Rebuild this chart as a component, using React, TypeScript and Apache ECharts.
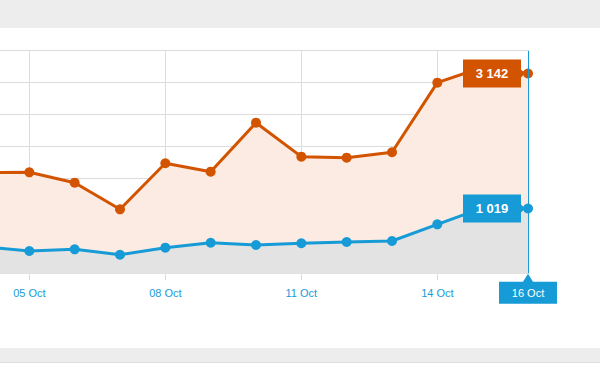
import React, { useEffect, useRef } from "react";
import * as echarts from "echarts";

const categories = ["04 Oct", "05 Oct", "06 Oct", "07 Oct", "08 Oct", "09 Oct", "10 Oct", "11 Oct", "12 Oct", "13 Oct", "14 Oct", "15 Oct", "16 Oct"];
const orangeValues = [1585, 1588, 1425, 1006, 1730, 1598, 2368, 1834, 1818, 1903, 2997, 3240, 3142];
const blueValues = [415, 351, 377, 292, 403, 481, 445, 472, 492, 508, 770, 1030, 1019];
const highlightCategory = "16 Oct";

const ORANGE = "#d35400";
const BLUE = "#169bd7";
const GRID = "#dcdcdc";
const SHIFT = 15.75;

const fmt = (v: number) => String(v).replace(/\B(?=(\d{3})+(?!\d))/g, " ");

const showEveryThird = (i: number) => (i - 1) % 3 === 0;

export default function App() {
  const ref = useRef<HTMLDivElement>(null);
  useEffect(() => {
    if (!ref.current) return;
    const chart = echarts.init(ref.current, undefined, { renderer: "svg" });
    const lastIdx = categories.indexOf(highlightCategory);
    const valueBox = "path://M0,0 L58,0 L58,10 L62,14 L58,18 L58,28 L0,28 Z";
    const dateBox = "path://M0,8 L24,8 L29,0 L34,8 L58,8 L58,30 L0,30 Z";
    chart.setOption({
      animation: false,
      backgroundColor: "#ffffff",
      graphic: [
        { type: "rect", left: 0, top: 0, shape: { width: 620, height: 28 }, style: { fill: "#ededed" }, z: -10 },
        { type: "rect", left: 0, top: 348, shape: { width: 620, height: 14 }, style: { fill: "#ededed" }, z: -10 },
        { type: "rect", left: 0, top: 362, shape: { width: 620, height: 1 }, style: { fill: "#dedede" }, z: -10 },
      ],
      grid: { left: 0, right: 72, top: 50.7, bottom: 98.7, containLabel: false },
      xAxis: {
        type: "category",
        data: categories,
        boundaryGap: false,
        axisLine: { show: true, lineStyle: { color: GRID, width: 1 } },
        axisTick: { show: true, length: 7, interval: showEveryThird, lineStyle: { color: GRID } },
        axisLabel: {
          interval: showEveryThird,
          color: BLUE,
          fontSize: 11,
          fontFamily: "Liberation Sans, Arial, sans-serif",
          margin: 14,
        },
        splitLine: { show: true, interval: showEveryThird, lineStyle: { color: GRID, width: 1 } },
      },
      yAxis: {
        type: "value",
        min: 0,
        max: 3500,
        interval: 500,
        show: true,
        axisLine: { show: false },
        axisTick: { show: false },
        axisLabel: { show: false },
        splitLine: { show: true, lineStyle: { color: GRID, width: 1 } },
      },
      series: [
        {
          type: "line",
          data: orangeValues,
          symbol: "circle",
          symbolSize: 10,
          showAllSymbol: true,
          lineStyle: { color: ORANGE, width: 3 },
          itemStyle: { color: ORANGE },
          areaStyle: { color: "#fbebe2", opacity: 1 },
          emphasis: { disabled: true },
          z: 2,
          markPoint: {
            silent: true,
            data: [
              {
                coord: [highlightCategory, orangeValues[lastIdx]],
                value: orangeValues[lastIdx],
                symbol: valueBox,
                symbolSize: [62, 28],
                symbolKeepAspect: false,
                symbolOffset: [-34, 0],
                itemStyle: { color: ORANGE },
                label: {
                  show: true,
                  position: "inside",
                  offset: [-2, 0],
                  formatter: () => fmt(orangeValues[lastIdx]),
                  color: "#ffffff",
                  fontWeight: "bold",
                  fontSize: 13,
                  fontFamily: "Liberation Sans, Arial, sans-serif",
                },
              },
            ],
          },
        },
        {
          type: "line",
          data: blueValues,
          symbol: "circle",
          symbolSize: 10,
          showAllSymbol: true,
          lineStyle: { color: BLUE, width: 3 },
          itemStyle: { color: BLUE },
          areaStyle: { color: "#e3e3e3", opacity: 1 },
          emphasis: { disabled: true },
          z: 3,
          markLine: {
            silent: true,
            symbol: ["none", "none"],
            label: { show: false },
            lineStyle: { color: BLUE, width: 1, type: "solid" },
            data: [{ xAxis: highlightCategory }],
          },
          markPoint: {
            silent: true,
            data: [
              {
                coord: [highlightCategory, blueValues[lastIdx]],
                value: blueValues[lastIdx],
                symbol: valueBox,
                symbolSize: [62, 28],
                symbolKeepAspect: false,
                symbolOffset: [-34, 0],
                itemStyle: { color: BLUE },
                label: {
                  show: true,
                  position: "inside",
                  offset: [-2, 0],
                  formatter: () => fmt(blueValues[lastIdx]),
                  color: "#ffffff",
                  fontWeight: "bold",
                  fontSize: 13,
                  fontFamily: "Liberation Sans, Arial, sans-serif",
                },
              },
              {
                coord: [highlightCategory, 0],
                value: 0,
                symbol: dateBox,
                symbolSize: [58, 30],
                symbolKeepAspect: false,
                symbolOffset: [0, 15.5],
                itemStyle: { color: BLUE },
                label: {
                  show: true,
                  position: "inside",
                  offset: [0, 4],
                  formatter: () => highlightCategory,
                  color: "#ffffff",
                  fontSize: 11,
                  fontFamily: "Liberation Sans, Arial, sans-serif",
                },
              },
            ],
          },
        },
      ],
    });
    return () => chart.dispose();
  }, []);
  return (
    <div style={{ position: "fixed", left: 0, top: 0, width: 600, height: 372, overflow: "hidden" }}>
      <div
        ref={ref}
        style={{ position: "absolute", left: -SHIFT, top: 0, width: 600 + SHIFT, height: 372 }}
      />
    </div>
  );
}
